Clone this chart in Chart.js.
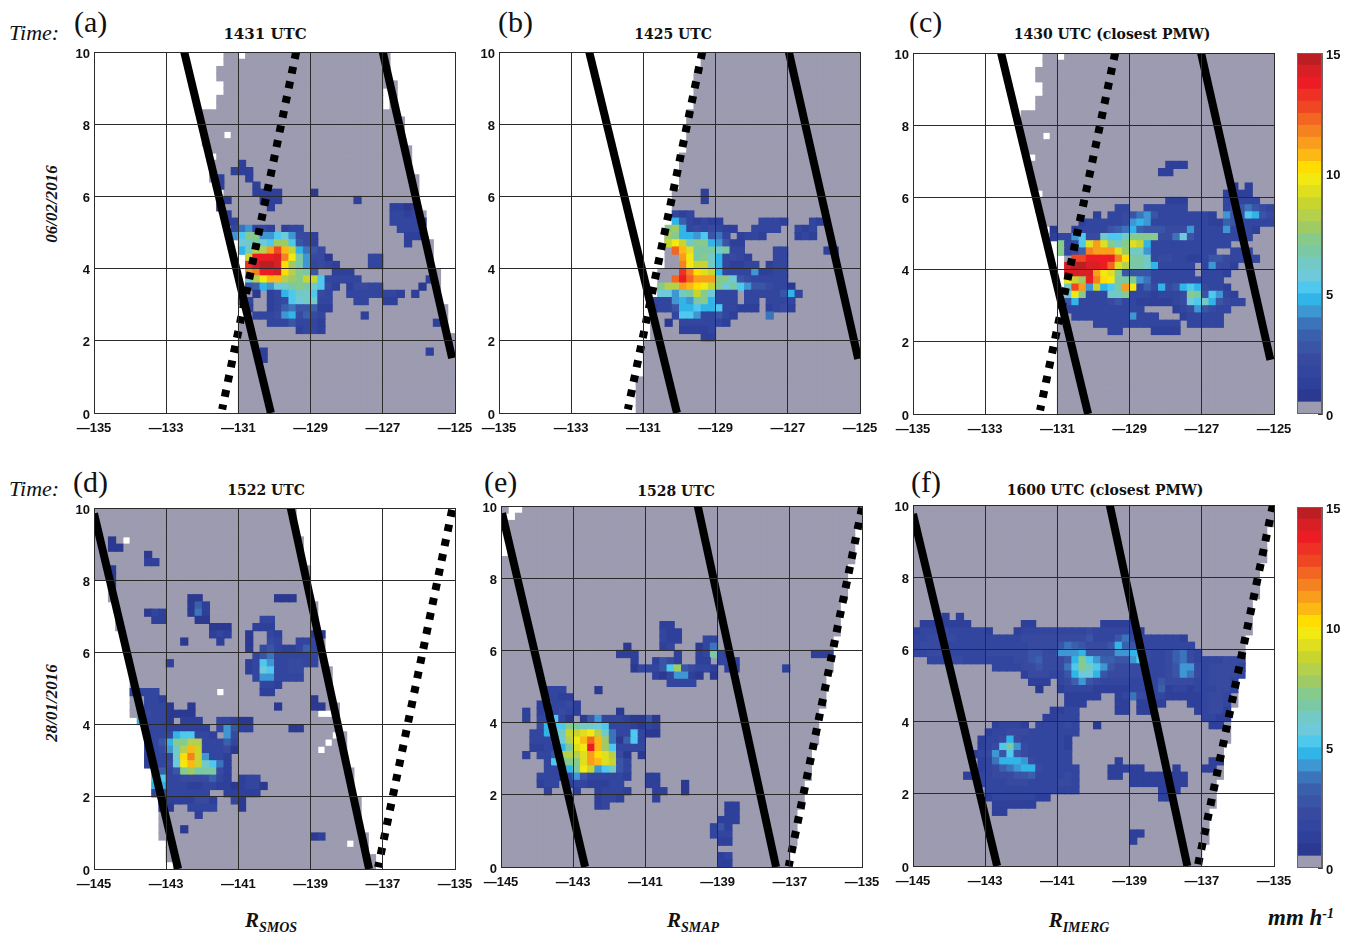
<!DOCTYPE html>
<html>
<head>
<meta charset="utf-8">
<title>Rain rate panels</title>
<script src="https://cdn.jsdelivr.net/npm/chart.js@4"></script>
<style>
  body { margin: 0; background: #fff; width: 1350px; height: 932px; overflow: hidden; position: relative; }
  canvas { position: absolute; }
  .t { position: absolute; white-space: nowrap; color: #111; line-height: 1; }
  .time { font: italic 22px "Liberation Serif", serif; left: 9px; }
  .tag { font: 30px "Liberation Serif", serif; }
  .ttl { font: bold 15px "DejaVu Serif", serif; transform: translateX(-50%); }
  .date { font: italic bold 17px "Liberation Serif", serif; left: 52px; transform: translate(-50%, -50%) rotate(-90deg); }
  .prod { font: italic bold 21px "Liberation Serif", serif; transform: translateX(-50%); top: 908px; }
  .prod sub { font-size: 14px; vertical-align: -5px; line-height: 0; }
  .unit { font-size: 23px; }
  .unit sup { font-size: 14px; vertical-align: 7px; line-height: 0; }
  .cbox { position: absolute; border: 1px solid #666; box-sizing: border-box; }
</style>
</head>
<body>
<div class="t time" style="top:20px">Time:</div>
<div class="t time" style="top:476px">Time:</div>
<div class="t tag" style="left:74px;top:5px">(a)</div>
<div class="t tag" style="left:498px;top:5px">(b)</div>
<div class="t tag" style="left:909px;top:5px">(c)</div>
<div class="t tag" style="left:73px;top:465px">(d)</div>
<div class="t tag" style="left:484px;top:465px">(e)</div>
<div class="t tag" style="left:911px;top:465px">(f)</div>
<div class="t ttl" style="left:265px;top:25px">1431 UTC</div>
<div class="t ttl" style="left:673px;top:26px;font-size:14px">1425 UTC</div>
<div class="t ttl" style="left:1112px;top:26px;font-size:14px">1430 UTC (closest PMW)</div>
<div class="t ttl" style="left:266px;top:482px;font-size:14px">1522 UTC</div>
<div class="t ttl" style="left:676px;top:483px;font-size:14px">1528 UTC</div>
<div class="t ttl" style="left:1105px;top:482px;font-size:14px">1600 UTC (closest PMW)</div>
<div class="t date" style="top:204px">06/02/2016</div>
<div class="t date" style="top:703px">28/01/2016</div>
<div class="t prod" style="left:271px"><i>R<sub>SMOS</sub></i></div>
<div class="t prod" style="left:693px"><i>R<sub>SMAP</sub></i></div>
<div class="t prod" style="left:1079px"><i>R<sub>IMERG</sub></i></div>
<div class="t prod unit" style="left:1301px;top:905px">mm h<sup>-1</sup></div>

<script>
// rain levels are base 30 chars, one per 0.5 mm/h colour step. runs are [row, firstCol, levels]
const lonTicksTop = [-135, -133, -131, -129, -127, -125];
const lonTicksBottom = [-145, -143, -141, -139, -137, -135];
const latTicks = [0, 2, 4, 6, 8, 10];
const barTicks = [0, 5, 10, 15];

const levelColors = ["#9c9bb0", "#2b3990", "#2e4099", "#33469f", "#3849a0", "#3a55a6", "#3a5fab", "#3b74ba", "#3e96d3",
  "#31b5e9", "#4fc8ee", "#6ecadb", "#72c9c6", "#7bc8a4", "#86ca8c", "#a0cb64", "#b4d04c", "#c8d52f", "#dfdf20", "#f3e912",
  "#ffdd00", "#fdb913", "#f99d1c", "#f58220", "#f26522", "#ef4723", "#ee3124", "#ed1c24", "#d91f26", "#bb1e23"];

const rainA = [
  [15,20,"2"],[16,19,"222"],[17,17,"2"],[17,21,"2"],[18,17,"2"],[18,22,"2"],[19,22,"2222"],[19,30,"1"],
  [20,18,"1"],[20,23,"222"],[20,36,"2"],[21,17,"1"],[21,24,"2"],[21,41,"2212"],[22,18,"2"],[22,41,"3323"],
  [23,18,"22"],[23,41,"33332"],[24,19,"378332"],[24,26,"233"],[24,42,"333"],[25,19,"8aee88ab8442"],[25,43,"222"],
  [26,20,"bcdbaffa542"],[26,43,"2"],[27,20,"9cggmplh9754"],[28,21,"hrrrsnjd8441"],[28,38,"33"],
  [29,21,"qsttskfd83432"],[29,38,"33"],[30,21,"mnrrskged5"],[30,33,"222"],[31,21,"bgjllgfehha33333"],[31,46,"2"],
  [32,21,"5698bcdedca42"],[32,35,"24433"],[32,45,"1"],[33,22,"1"],[33,24,"239acca43"],[33,35,"33333332"],[33,44,"2"],
  [34,20,"33"],[34,24,"234abcc33"],[34,36,"33"],[34,40,"22"],[35,21,"2"],[35,24,"236755622"],
  [36,22,"3334894643"],[36,37,"2"],[37,24,"33353332"],[37,47,"2"],[38,28,"2332"],[41,23,"2"],[41,46,"2"],[42,23,"2"]
];
const swathFirstA = [18,18,17,17,18,18,17,17,15,15,15,15,15,16,17,16,16,16,17,18,17,17,18,18,19,19,20,20,21,21,21,21,21,21,21,21,21,20,20,20,20,20,20,20,20,20,20,20,20,20];
const swathEndA = [41,41,41,41,42,42,42,42,42,43,43,43,43,44,44,44,44,45,45,45,45,45,46,46,46,46,47,47,47,47,48,48,48,48,48,49,49,49,49,50,50,50,50,50,50,50,50,50,50,50];
const holesA = [[20,0],[18,11],[16,14],[17,19],[40,5],[40,6],[40,7]];

const rainB = [
  [19,28,"2"],[20,28,"2"],[22,24,"323"],[23,24,"963"],[23,27,"2322"],[23,36,"3332"],[23,43,"32"],
  [24,23,"ef93434322"],[24,35,"3333"],[24,41,"323"],[25,23,"fe998a573"],[25,33,"2332"],[25,41,"232"],
  [26,23,"hjhcee9852"],[26,33,"2"],[27,24,"olidddcd33"],[27,38,"33"],[27,45,"22"],
  [28,25,"mjdec93432"],[28,38,"33"],[29,25,"njhhc93223"],[29,35,"3"],[29,37,"233"],
  [30,25,"qnkih93333"],[30,35,"82233"],[31,24,"orommmeeb5433333"],
  [32,22,"eggmlkjhebda855433"],[32,40,"1"],[33,22,"bb8cdheb333"],[33,34,"333335"],[33,40,"93"],
  [34,21,"333898de9333"],[34,34,"33"],[34,37,"3333"],
  [35,21,"233599a99a33222"],[35,37,"2342"],[36,24,"3aa833532"],[36,37,"7"],[37,23,"1"],[37,25,"3333332"],
  [38,25,"22223"],[39,28,"22"]
];
const swathFirstB = [28,28,28,27,27,27,27,27,26,26,26,26,26,26,25,25,25,25,25,24,24,24,24,24,24,23,23,23,23,23,22,22,22,22,22,21,21,21,21,21,20,20,20,20,20,19,19,19,19,19];
const swathEndB = [50,50,50,50,50,50,50,50,50,50,50,50,50,50,50,50,50,50,50,50,50,50,50,50,50,50,50,50,50,50,50,50,50,50,50,50,50,50,50,50,50,50,50,50,50,50,50,50,50,50];
const holesB = [];

const rainC = [
  [15,35,"222"],[16,34,"22"],[18,44,"1"],[18,46,"2"],[19,43,"2222"],[20,35,"222"],[20,43,"33333"],
  [21,28,"33"],[21,32,"333333"],[21,43,"3557543"],[22,25,"2"],[22,27,"334578533333332"],[22,43,"855a954"],
  [23,23,"2333334898333333332"],[23,42,"26533333"],
  [24,19,"1"],[24,22,"23333567965554448333383332"],[25,19,"2338a44caaceeee447b533333333"],
  [26,20,"e34aimieceih933333333333"],[27,20,"e346nmmmifcc8333333333"],[27,44,"333"],
  [28,22,"pprrrrnkddc344332235543333"],[29,21,"sttssroigddc933333"],[29,40,"38442"],
  [30,21,"ssssmjie5555333333"],[30,40,"3332"],[31,21,"jhfrnkjdde873333333333"],
  [32,21,"cpm8h9admj3649459a94332"],[33,21,"bje333cce33323334ed5a832"],[34,21,"59333345332222234bac95433"],
  [35,21,"33333333333"],[35,36,"23485433"],[36,22,"33333333"],[36,30,"8333"],[36,37,"233333"],
  [37,25,"33333"],[37,30,"3333333"],[37,38,"33333"],[38,27,"33"],[38,33,"2222"]
];
const swathFirstC = [18,18,17,17,18,18,17,17,15,15,15,15,15,16,17,16,16,16,17,18,17,17,18,18,19,19,20,20,21,21,21,21,21,21,21,21,21,20,20,20,20,20,20,20,20,20,20,20,20,20];
const swathEndC = swathEndB;
const holesC = [[20,0],[18,11],[16,14],[17,19]];

const rainD = [
  [4,2,"1"],[5,2,"11"],[6,7,"1"],[7,7,"22"],[8,2,"1"],[9,2,"1"],[10,2,"1"],[12,13,"11"],[12,25,"111"],[13,13,"162"],
  [14,7,"132"],[14,13,"172"],[15,8,"22"],[15,14,"11"],[15,23,"33"],[16,16,"111"],[16,22,"222"],
  [17,16,"232"],[17,21,"1"],[17,24,"32"],[17,30,"11"],[18,12,"1"],[18,17,"2"],[18,21,"1"],[18,24,"43"],[18,28,"333"],
  [19,21,"1"],[19,23,"45322363"],[20,22,"357333333"],[21,10,"2"],[21,21,"23a8334433"],[22,21,"23ba3344"],
  [23,22,"3883333"],[24,23,"332"],[25,5,"2333"],[25,23,"22"],[26,7,"332"],[26,30,"1"],
  [27,7,"3331"],[27,13,"1"],[27,25,"1"],[27,30,"11"],[28,7,"4331111"],[29,6,"93331"],[29,12,"222"],[29,17,"33211"],
  [30,7,"333222222"],[30,17,"38522"],[30,27,"11"],[31,7,"23339aa332"],[31,18,"84"],[32,7,"3359eegg33363"],
  [33,7,"3348cglh33341"],[34,7,"2333cknh8332"],[35,7,"2334bjlhca72"],[36,9,"635efddd42"],
  [37,8,"aa334444632"],[37,20,"233"],[38,8,"9933322332212331"],[39,8,"33333333"],[39,18,"22222"],
  [40,9,"22222442"],[40,19,"31"],[41,9,"11"],[41,13,"3333"],[41,20,"1"],[42,14,"2"],[44,12,"1"],[45,30,"12"]
];
const swathFirstD = [0,0,0,0,0,0,0,0,0,0,2,2,2,3,3,3,3,4,4,4,5,5,5,5,5,5,5,5,5,6,7,7,7,7,7,7,8,8,8,8,9,9,9,9,9,9,10,10,10,10];
const swathEndD = [28,28,28,28,29,29,29,29,30,30,30,30,30,31,31,31,31,32,32,32,32,32,33,33,33,33,33,34,34,34,34,35,35,35,35,35,36,36,36,36,37,37,37,37,37,38,38,38,39,39];
const holesD = [[31,28],[32,28],[33,31],[32,32],[31,33],[17,25],[4,4],[35,46],[10,49]];

const rainE = [
  [16,22,"22"],[17,22,"322"],[18,22,"322"],[18,28,"33"],[19,17,"1"],[19,22,"23"],[19,27,"137"],[20,16,"222"],[20,24,"2"],
  [20,27,"23d32"],[20,43,"222"],[21,18,"2"],[21,21,"2542"],[21,27,"22"],[21,30,"332"],[22,18,"13335af54332"],[22,31,"22"],[22,39,"2"],
  [23,21,"2138821"],[23,29,"1"],[24,23,"3333"],[25,6,"333"],[25,13,"1"],[26,6,"3322"],[27,5,"2"],[27,7,"3342"],
  [28,3,"2"],[28,5,"2"],[28,7,"3432"],[28,16,"1"],[29,3,"2"],[29,5,"33a31"],[29,11,"15833321151"],
  [30,5,"49aaedccba3332132"],[31,4,"339achhijgc733a311"],[32,4,"3336bgjlolf716a3"],[33,4,"22339dijrlfa3333"],
  [34,3,"2"],[34,5,"335gggimkig41"],[34,19,"1"],[35,6,"3adeeimlih53"],[36,6,"3359djh8ac53"],
  [37,5,"3332385333332"],[37,20,"22"],[38,5,"233"],[38,9,"23322233"],[38,20,"22"],[38,25,"1"],
  [39,6,"2"],[39,10,"2"],[39,13,"23332"],[39,21,"22"],[39,25,"1"],[40,13,"2332"],[40,21,"2"],[41,13,"23"],
  [41,31,"22"],[42,31,"22"],[43,30,"222"],[44,29,"352"],[45,29,"333"],[46,30,"22"],[48,30,"23"],[49,30,"22"]
];
const swathFirstE = [0,0,0,0,0,0,0,0,0,0,0,0,0,0,0,0,0,0,0,0,0,0,0,0,0,0,0,0,0,0,0,0,0,0,0,0,0,0,0,0,0,0,0,0,0,0,0,0,0,0];
const swathEndE = [50,50,50,49,49,49,49,49,48,48,48,48,48,47,47,47,47,47,46,46,46,46,46,45,45,45,45,45,44,44,44,44,44,43,43,43,43,43,42,42,42,42,41,41,41,41,41,40,40,40];
const holesE = [[1,0],[2,0],[0,1],[1,1],[0,2],[0,3],[0,4],[0,5],[0,6]];

const rainF = [
  [15,4,"2"],[15,6,"2"],[16,1,"2222222"],[16,15,"22"],[16,26,"22222"],[17,0,"23334333332"],[17,14,"233333"],[17,20,"333343333322"],
  [18,0,"33444433333333344444444453335733333332"],[19,0,"344443333333333344445765444596533333333"],
  [20,0,"3344333333444444554488895555889943346743"],
  [21,2,"33344333"],[21,10,"3333445644"],[21,20,"459ea86655"],[21,30,"8a43346743"],[21,40,"333444"],
  [22,11,"333344544"],[22,20,"47aeca8544"],[22,30,"4433345884"],[22,40,"344443"],
  [23,15,"24443"],[23,20,"359bb95444"],[23,30,"4433345874"],[23,40,"344443"],
  [24,16,"222"],[24,20,"3468543333"],[24,30,"3333544443"],[24,40,"34443"],
  [25,17,"1"],[25,20,"2333322222"],[25,30,"3333623323"],[25,40,"33443"],
  [26,21,"22222"],[26,28,"2374433"],[26,35,"2222"],[26,39,"23443"],
  [27,21,"222"],[27,28,"22"],[27,31,"2222"],[27,38,"22"],[27,40,"3443"],
  [28,19,"2233"],[28,28,"22"],[28,31,"22"],[28,39,"2"],[28,40,"3442"],[29,18,"22333"],[29,40,"3322"],
  [30,11,"23332"],[30,17,"333343"],[30,25,"1"],[30,41,"22"],[31,10,"2334443333333"],[32,9,"2334943333332"],
  [33,9,"234ad84333332"],[34,8,"23485a54333333"],[35,9,"2379998433333"],[35,28,"2"],[35,41,"22"],
  [36,9,"23467899433333"],[36,27,"22222"],[36,36,"2"],[36,40,"22"],[37,7,"22"],[37,9,"33444556333343"],[37,27,"22"],[37,30,"22222222"],
  [38,9,"33334443333443"],[38,30,"22222222"],[39,10,"3333333333333"],[39,34,"222"],[40,10,"233333322"],[40,34,"22"],
  [41,11,"222222"],[42,11,"22"],[45,30,"22"],[46,30,"2"]
];
const swathFirstF = swathFirstE;
const swathEndF = swathEndE;
const holesF = [];

// swath edges, [lon, lat] at each end
const tracksA = { solid: [[[-132.5,10],[-130.1,0]], [[-127,10],[-125.08,1.52]]], dashed: [[-129.4,10],[-131.45,0.1]] };
const tracksB = { solid: [[[-132.5,10],[-130.07,0]], [[-126.97,10],[-125.05,1.5]]], dashed: [[-129.37,10],[-131.43,0.1]] };
const tracksC = { solid: [[[-132.56,10],[-130.15,0]], [[-127.02,10],[-125.1,1.5]]], dashed: [[-129.4,10],[-131.48,0.1]] };
const tracksD = { solid: [[[-145,9.85],[-142.67,0]], [[-139.55,10],[-137.38,0]]], dashed: [[-135.08,9.95],[-137.13,0.05]] };
const tracksE = { solid: [[[-144.97,9.8],[-142.67,0]], [[-139.55,10],[-137.38,0]]], dashed: [[-135,9.95],[-137.03,0.02]] };
const tracksF = { solid: [[[-145,9.75],[-142.67,0]], [[-139.55,10],[-137.4,0]]], dashed: [[-135.03,10],[-137.1,0.05]] };

const PLOT = 361;
const CELL = 0.2;
const tickFont = { family: "'Liberation Sans', Arial, sans-serif", size: 13, weight: "bold" };
const inkLine = "#2a2a2a";

function toXY(pair) {
  return { x: pair[0], y: pair[1] };
}

// labels may stick out of the plot, so the scale must not ask the layout for room
function noPadding(s) {
  s.paddingLeft = s.paddingRight = s.paddingTop = s.paddingBottom = 0;
}

function makePanel(left, top, lonMin, lonTicks, rain, first, end, holes, tracks) {
  const cv = document.createElement("canvas");
  cv.width = PLOT + 62;
  cv.height = PLOT + 36;
  cv.style.left = (left - 42) + "px";
  cv.style.top = (top - 8) + "px";
  document.body.appendChild(cv);

  const cellX = c => lonMin + (c + 0.5) * CELL;
  const cellY = r => 10 - (r + 0.5) * CELL;

  const swath = [];
  first.forEach((f, r) => {
    for (let c = f; c < end[r]; c++) {
      if (holes.some(h => h[0] === c && h[1] === r)) continue;
      swath.push({ x: cellX(c), y: cellY(r) });
    }
  });

  const rainPts = [];
  const rainCols = [];
  rain.forEach(run => {
    [...run[2]].forEach((ch, i) => {
      const lvl = parseInt(ch, 30);
      if (!lvl) return;
      rainPts.push({ x: cellX(run[1] + i), y: cellY(run[0]), rate: lvl * 0.5 + 0.25 });
      rainCols.push(levelColors[lvl]);
    });
  });

  const lineSets = tracks.solid.map(seg => ({
    data: seg.map(toXY), showLine: true, pointRadius: 0, order: 0,
    borderColor: "#000", borderWidth: 8
  }));
  lineSets.push({
    data: tracks.dashed.map(toXY), showLine: true, pointRadius: 0, order: 0,
    borderColor: "#000", borderWidth: 8, borderDash: [7, 8]
  });

  // a rect point has a side of radius * sqrt2. one extra px hides the seams between cells
  const r = (PLOT / 50 + 1) / Math.SQRT2;

  new Chart(cv, {
    type: "scatter",
    data: {
      datasets: [
        { data: swath, pointStyle: "rect", pointRadius: r, pointBorderWidth: 0, pointBackgroundColor: levelColors[0], order: 3 },
        { data: rainPts, pointStyle: "rect", pointRadius: r, pointBorderWidth: 0, pointBackgroundColor: rainCols, order: 2 },
        ...lineSets
      ]
    },
    options: {
      responsive: false,
      animation: false,
      events: [],
      layout: { padding: { left: 0, right: 20, top: 8, bottom: 0 } },
      plugins: { legend: { display: false }, tooltip: { enabled: false } },
      scales: {
        x: {
          type: "linear", min: lonMin, max: lonMin + 10,
          afterBuildTicks: s => { s.ticks = lonTicks.map(v => ({ value: v })); },
          afterFit: s => { s.height = 28; noPadding(s); },
          grid: { color: inkLine, lineWidth: 1, z: 1, drawTicks: false },
          border: { color: inkLine, z: 1 },
          ticks: { font: tickFont, color: "#111", padding: 8, maxRotation: 0, autoSkip: false,
            callback: v => "\u2014" + Math.abs(v) }
        },
        y: {
          type: "linear", min: 0, max: 10,
          afterBuildTicks: s => { s.ticks = latTicks.map(v => ({ value: v })); },
          afterFit: s => { s.width = 42; noPadding(s); },
          grid: { color: inkLine, lineWidth: 1, z: 1, drawTicks: false },
          border: { color: inkLine, z: 1 },
          ticks: { font: tickFont, color: "#111", padding: 4, autoSkip: false, labelOffset: 2 }
        }
      }
    }
  });
}

function makeColorbar(left, top) {
  const cv = document.createElement("canvas");
  cv.width = 53;
  cv.height = PLOT + 20;
  cv.style.left = left + "px";
  cv.style.top = (top - 10) + "px";
  document.body.appendChild(cv);

  new Chart(cv, {
    type: "bar",
    data: {
      labels: [""],
      datasets: levelColors.map(col => ({
        data: [0.5], backgroundColor: col, borderWidth: 0, barPercentage: 1, categoryPercentage: 1, stack: "bar"
      }))
    },
    options: {
      responsive: false,
      animation: false,
      events: [],
      layout: { padding: { top: 10, bottom: 10 } },
      plugins: { legend: { display: false }, tooltip: { enabled: false } },
      scales: {
        x: { display: false, stacked: true },
        y: {
          position: "right", min: 0, max: 15, stacked: true,
          afterBuildTicks: s => { s.ticks = barTicks.map(v => ({ value: v })); },
          afterFit: s => { s.width = 28; noPadding(s); },
          grid: { drawOnChartArea: false, tickLength: -4, color: "#333" },
          border: { color: "#666" },
          ticks: { font: tickFont, color: "#111", padding: 8, autoSkip: false, labelOffset: 2 }
        }
      }
    }
  });

  const box = document.createElement("div");
  box.className = "cbox";
  box.style.cssText = `left:${left}px;top:${top}px;width:25px;height:${PLOT}px`;
  document.body.appendChild(box);
}

makePanel(94, 52, -135, lonTicksTop, rainA, swathFirstA, swathEndA, holesA, tracksA);
makePanel(499, 52, -135, lonTicksTop, rainB, swathFirstB, swathEndB, holesB, tracksB);
makePanel(913, 53, -135, lonTicksTop, rainC, swathFirstC, swathEndC, holesC, tracksC);
makePanel(94, 508, -145, lonTicksBottom, rainD, swathFirstD, swathEndD, holesD, tracksD);
makePanel(501, 506, -145, lonTicksBottom, rainE, swathFirstE, swathEndE, holesE, tracksE);
makePanel(913, 505, -145, lonTicksBottom, rainF, swathFirstF, swathEndF, holesF, tracksF);
makeColorbar(1297, 53);
makeColorbar(1297, 507);
</script>
</body>
</html>
